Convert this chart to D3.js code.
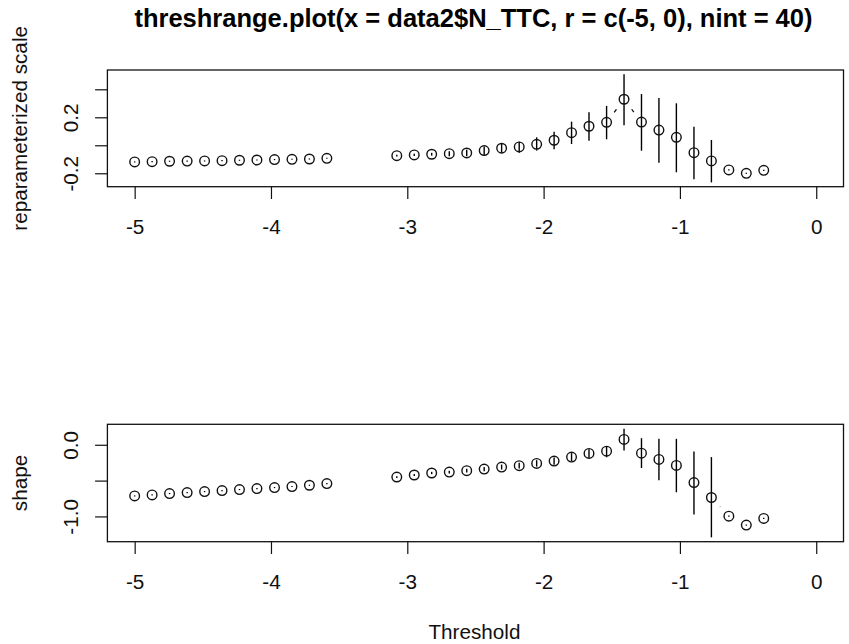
<!DOCTYPE html>
<html><head><meta charset="utf-8">
<script src="https://cdn.jsdelivr.net/npm/d3@7"></script>
<style>body{margin:0;background:#fff} svg{display:block}</style>
</head><body>
<svg id="chart" width="849" height="644"></svg>
<script>
// ---- data ----
const thresholds = [-5.000,-4.872,-4.744,-4.615,-4.487,-4.359,-4.231,-4.103,-3.974,-3.846,-3.718,-3.590,
  -3.462,-3.333,-3.205,-3.077,-2.949,-2.821,-2.692,-2.564,-2.436,-2.308,-2.179,-2.051,-1.923,-1.795,
  -1.667,-1.538,-1.410,-1.282,-1.154,-1.026,-0.897,-0.769,-0.641,-0.513,-0.385,-0.256,-0.128,0.000];

const scaleEst = [-0.119,-0.117,-0.114,-0.113,-0.112,-0.110,-0.107,-0.105,-0.102,-0.100,-0.098,-0.093,
  null,null,null,-0.074,-0.069,-0.064,-0.060,-0.055,-0.038,-0.021,-0.012,0.007,0.036,0.090,
  0.136,0.164,0.329,0.166,0.109,0.057,-0.053,-0.112,-0.176,-0.200,-0.179,null,null,null];
const scaleLower = [-0.123,-0.121,-0.118,-0.117,-0.116,-0.114,-0.111,-0.109,-0.106,-0.104,-0.102,-0.097,
  null,null,null,-0.080,-0.077,-0.074,-0.078,-0.078,-0.069,-0.053,-0.053,-0.038,-0.029,0.009,
  0.033,0.043,0.143,-0.039,-0.124,-0.193,-0.243,-0.265,-0.181,-0.204,-0.183,null,null,null];
const scaleUpper = [-0.115,-0.113,-0.110,-0.109,-0.108,-0.106,-0.103,-0.101,-0.098,-0.096,-0.094,-0.089,
  null,null,null,-0.068,-0.061,-0.054,-0.042,-0.032,-0.010,0.009,0.026,0.057,0.097,0.169,
  0.236,0.281,0.507,0.366,0.338,0.300,0.133,0.038,-0.171,-0.196,-0.175,null,null,null];

const shapeEst = [-0.714,-0.700,-0.681,-0.667,-0.653,-0.639,-0.625,-0.611,-0.597,-0.583,-0.565,-0.542,
  null,null,null,-0.450,-0.422,-0.394,-0.381,-0.361,-0.339,-0.311,-0.292,-0.260,-0.228,-0.172,
  -0.121,-0.089,0.074,-0.117,-0.204,-0.288,-0.528,-0.736,-0.996,-1.121,-1.028,null,null,null];
const shapeLower = [-0.722,-0.708,-0.689,-0.675,-0.661,-0.647,-0.633,-0.619,-0.605,-0.591,-0.573,-0.550,
  null,null,null,-0.462,-0.436,-0.410,-0.401,-0.386,-0.369,-0.346,-0.332,-0.305,-0.278,-0.227,
  -0.181,-0.174,-0.079,-0.325,-0.496,-0.663,-0.972,-1.292,-1.004,-1.129,-1.036,null,null,null];
const shapeUpper = [-0.706,-0.692,-0.673,-0.659,-0.645,-0.631,-0.617,-0.603,-0.589,-0.575,-0.557,-0.534,
  null,null,null,-0.438,-0.408,-0.378,-0.361,-0.336,-0.309,-0.276,-0.252,-0.215,-0.178,-0.117,
  -0.061,-0.024,0.225,0.092,0.083,0.083,-0.093,-0.172,-0.988,-1.113,-1.020,null,null,null];

const xTicks = [-5,-4,-3,-2,-1,0];
const xTickLabels = ["-5","-4","-3","-2","-1","0"];
const scaleTicks = [-0.2,0,0.2,0.4];
const scaleTickLabels = ["-0.2","","0.2",""];
const shapeTicks = [-1,-0.5,0];
const shapeTickLabels = ["-1.0","","0.0"];
const titleText = "threshrange.plot(x = data2$N_TTC, r = c(-5, 0), nint = 40)";
const xLabel = "Threshold";
const panelLabels = ["reparameterized scale","shape"];

// ---- layout ----
const FONT = "'Liberation Sans', Arial, Helvetica, sans-serif";
const FS = 20.7;
const left = 107.4, right = 843.5;
const panels = [
  {top:70, bottom:186.7, est:scaleEst, lo:scaleLower, hi:scaleUpper, ticks:scaleTicks, labels:scaleTickLabels, name:panelLabels[0]},
  {top:424.3, bottom:541.7, est:shapeEst, lo:shapeLower, hi:shapeUpper, ticks:shapeTicks, labels:shapeTickLabels, name:panelLabels[1]}
];
const svg = d3.select("#chart");
svg.append("rect").attr("width",849).attr("height",644).attr("fill","#fff");

function ext4(a){ const e=d3.extent(a.filter(v=>v!=null)); const r=e[1]-e[0]; return [e[0]-0.04*r, e[1]+0.04*r]; }
const x = d3.scaleLinear().domain(ext4(thresholds)).range([left,right]);
const GAP = 12.6, R = 4.8, TICK = 12.3;

panels.forEach(p => {
  const all = p.lo.concat(p.hi, p.est);
  const y = d3.scaleLinear().domain(ext4(all)).range([p.bottom, p.top]);
  const g = svg.append("g");
  const pts = thresholds.map((t,i)=>({t, v:p.est[i], lo:p.lo[i], hi:p.hi[i]}));

  // type="b" connecting segments with gaps
  for (let i=0;i<pts.length-1;i++){
    const a=pts[i], b=pts[i+1];
    if (a.v==null || b.v==null) continue;
    const x1=x(a.t), y1=y(a.v), x2=x(b.t), y2=y(b.v);
    const L=Math.hypot(x2-x1,y2-y1);
    if (L>2*GAP){
      const ux=(x2-x1)/L, uy=(y2-y1)/L;
      g.append("line").attr("x1",x1+ux*GAP).attr("y1",y1+uy*GAP).attr("x2",x2-ux*GAP).attr("y2",y2-uy*GAP)
        .attr("stroke","#000").attr("stroke-width",1.2);
    }
  }
  const valid = pts.filter(d=>d.v!=null);
  // CI lines
  g.selectAll("line.ci").data(valid).join("line").attr("class","ci")
    .attr("x1",d=>x(d.t)).attr("x2",d=>x(d.t)).attr("y1",d=>y(d.lo)).attr("y2",d=>y(d.hi))
    .attr("stroke","#000").attr("stroke-width",1.4);
  // points
  g.selectAll("circle").data(valid).join("circle")
    .attr("cx",d=>x(d.t)).attr("cy",d=>y(d.v)).attr("r",R)
    .attr("fill","none").attr("stroke","#111").attr("stroke-width",1.4);

  // box
  svg.append("rect").attr("x",left).attr("y",p.top).attr("width",right-left).attr("height",p.bottom-p.top)
    .attr("fill","none").attr("stroke","#111").attr("stroke-width",1.3);

  // x axis
  const xa = svg.append("g").attr("transform",`translate(0,${p.bottom})`)
    .call(d3.axisBottom(x).tickValues(xTicks).tickFormat((d,i)=>xTickLabels[i]).tickSize(TICK));
  xa.select(".domain").remove();
  xa.selectAll("line").attr("stroke","#111").attr("stroke-width",1.2);
  xa.selectAll("text").attr("y",47.3).attr("dy",null).attr("fill","#111")
    .style("font-family",FONT).style("font-size",FS+"px");

  // y axis
  const ya = svg.append("g").attr("transform",`translate(${left},0)`)
    .call(d3.axisLeft(y).tickValues(p.ticks).tickFormat((d,i)=>p.labels[i]).tickSize(TICK));
  ya.select(".domain").remove();
  ya.selectAll("line").attr("stroke","#111").attr("stroke-width",1.2);
  ya.selectAll("text").attr("x",null).attr("dy",null).attr("fill","#111")
    .attr("text-anchor","middle").attr("transform",`translate(${78.3-left},0) rotate(-90)`)
    .style("font-family",FONT).style("font-size",FS+"px");

  // y label
  svg.append("text").attr("transform",`translate(27,${(p.top+p.bottom)/2}) rotate(-90)`)
    .attr("text-anchor","middle").attr("fill","#111")
    .style("font-family",FONT).style("font-size",FS+"px").text(p.name);
});

svg.append("text").attr("x",(left+right)/2 - 1).attr("y",639.3).attr("text-anchor","middle").attr("fill","#111")
  .style("font-family",FONT).style("font-size",FS+"px").text(xLabel);

svg.append("text").attr("x",(left+right)/2 - 2).attr("y",26.7).attr("text-anchor","middle").attr("fill","#000")
  .style("font-family",FONT).style("font-size","25.5px").style("font-weight","bold").text(titleText);
</script>
</body></html>
